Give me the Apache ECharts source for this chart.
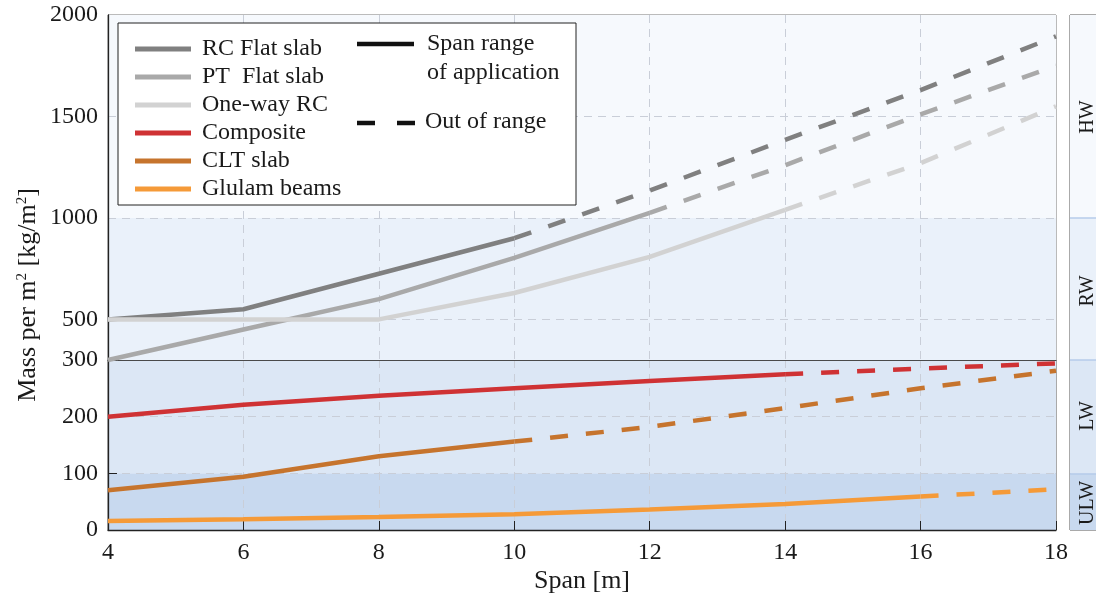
<!DOCTYPE html>
<html lang="en">
<head>
    <meta charset="UTF-8">
    <title>Mass per m2 vs span</title>
    <script src="https://cdn.jsdelivr.net/npm/echarts@6/dist/echarts.min.js"></script>
    <style>
        html, body { margin: 0; padding: 0; background: #fff; }
        #main { width: 1096px; height: 596px; }
    </style>
</head>
<body>
<div id="main"></div>
<script type="text/javascript">
    // span values [m]
    var spans = [4, 6, 8, 10, 12, 14, 16, 18];

    // mass per m2 [kg/m2] for each span
    var rcFlat    = [500, 550, 725, 900, 1135, 1385, 1630, 1895];
    var ptFlat    = [300, 450, 600, 803, 1025, 1260, 1510, 1750];
    var oneWayRC  = [500, 500, 500, 630, 808, 1040, 1270, 1550];
    var composite = [200, 221, 237, 250, 263, 275, 285, 294];
    var cltSlab   = [70, 94, 130, 156, 182, 215, 250, 281];
    var glulam    = [16, 19, 23, 28, 36, 46, 59, 72];

    // last span inside the range of application
    var rcLimit = 10, ptLimit = 12, oneWayLimit = 14, compLimit = 14, cltLimit = 10, glulamLimit = 16;

    // y ticks
    var lowTicks = [0, 100, 200, 300];
    var highTicks = [500, 1000, 1500, 2000];

    // weight classes (band edges)
    var bandEdges = [0, 100, 300, 1000, 2000];
    var bandNames = ['ULW', 'LW', 'RW', 'HW'];
    var bandColors = ['#c8d9ef', '#dce7f5', '#eaf1fa', '#f6f9fd'];

    var FONT = 'Liberation Serif';
    var TXT = '#1a1a1a';
    var GRIDC = '#c9ced8';
    var BANDLINE = '#b6cbea';

    var myChart = echarts.init(document.getElementById('main'), null, {renderer: 'canvas'});

    // colours of 100-steps between min and max
    function stepColors(min, max, fn) {
        var out = [];
        for (var v = min; v < max; v += 100) out.push(fn(v));
        return out;
    }
    function bandColorOf(v) {
        for (var i = 0; i < bandNames.length; i++) {
            if (v >= bandEdges[i] && v < bandEdges[i + 1]) return bandColors[i];
        }
        return bandColors[bandColors.length - 1];
    }
    function lineColors(min, max, list, col) {
        var out = [];
        for (var v = min; v <= max; v += 100) out.push(list.indexOf(v) >= 0 ? col : 'rgba(0,0,0,0)');
        return out;
    }

    var defs = [
        {name: 'RC Flat slab', values: rcFlat, limit: rcLimit, color: '#808080', top: true},
        {name: 'PT  Flat slab', values: ptFlat, limit: ptLimit, color: '#a9a9a9', top: true},
        {name: 'One-way RC', values: oneWayRC, limit: oneWayLimit, color: '#d2d2d2', top: true},
        {name: 'Composite', values: composite, limit: compLimit, color: '#cf3234', top: false},
        {name: 'CLT slab', values: cltSlab, limit: cltLimit, color: '#c6742d', top: false},
        {name: 'Glulam beams', values: glulam, limit: glulamLimit, color: '#f59a38', top: false}
    ];

    var series = [];
    defs.forEach(function (d) {
        var inRange = [], outRange = [];
        for (var i = 0; i < spans.length; i++) {
            if (spans[i] <= d.limit) inRange.push([spans[i], d.values[i]]);
            if (spans[i] >= d.limit) outRange.push([spans[i], d.values[i]]);
        }
        var idx = d.top ? 1 : 0;
        series.push({
            name: d.name, type: 'line', xAxisIndex: idx, yAxisIndex: idx,
            data: inRange, symbol: 'none', silent: true, z: 3,
            itemStyle: {color: d.color},
            lineStyle: {color: d.color, width: 4.5, cap: 'butt'}
        });
        series.push({
            name: d.name + ' (out of range)', type: 'line', xAxisIndex: idx, yAxisIndex: idx,
            data: outRange, symbol: 'none', silent: true, z: 3,
            itemStyle: {color: d.color},
            lineStyle: {color: d.color, width: 4.5, cap: 'butt', type: [18, 18]}
        });
    });

    var xBase = {
        type: 'value', min: 4, max: 18, interval: 2,
        splitLine: {show: true, showMinLine: false, showMaxLine: false, lineStyle: {color: GRIDC, type: [8, 6], width: 1}}
    };

    var gridBase = {show: true, borderWidth: 1, backgroundColor: 'transparent', containLabel: false, outerBoundsMode: 'none'};

    var option = {
        animation: false,
        textStyle: {fontFamily: FONT},
        grid: [
            Object.assign({left: 108, right: 40, top: 360, bottom: 66, borderColor: '#555'}, gridBase),
            Object.assign({left: 108, right: 40, top: 15, height: 345, borderColor: '#777'}, gridBase),
            Object.assign({left: 1070, width: 60, top: 360, bottom: 66, borderColor: '#555'}, gridBase),
            Object.assign({left: 1070, width: 60, top: 15, height: 345, borderColor: '#555'}, gridBase)
        ],
        xAxis: [
            Object.assign({}, xBase, {
                gridIndex: 0,
                name: 'Span [m]', nameLocation: 'middle', nameGap: 38,
                nameTextStyle: {fontSize: 26, color: TXT, fontFamily: FONT},
                axisLine: {show: true, lineStyle: {color: '#222', width: 1.3}},
                axisTick: {show: true, inside: true, length: 9, lineStyle: {color: '#222'}},
                axisLabel: {fontSize: 24, color: TXT, fontFamily: FONT, margin: 11}
            }),
            Object.assign({}, xBase, {
                gridIndex: 1,
                axisLine: {show: true, onZero: false, lineStyle: {color: '#4a4a4a', width: 1.2}},
                axisTick: {show: false}, axisLabel: {show: false}
            }),
            {type: 'value', gridIndex: 2, min: 4, max: 18, show: false},
            {type: 'value', gridIndex: 3, min: 4, max: 18, show: false}
        ],
        yAxis: [
            {
                type: 'value', gridIndex: 0, min: 0, max: 300, interval: 100,
                axisLine: {show: true, lineStyle: {color: '#222', width: 1.3}},
                axisTick: {show: true, inside: true, length: 9, lineStyle: {color: '#222'}},
                axisLabel: {fontSize: 24, color: TXT, fontFamily: FONT, margin: 10},
                splitLine: {show: true, lineStyle: {color: lineColors(0, 300, [100, 200], GRIDC), type: [8, 6]}},
                splitArea: {show: true, areaStyle: {color: stepColors(0, 300, bandColorOf)}}
            },
            {
                type: 'value', gridIndex: 1, min: 300, max: 2000, interval: 100,
                axisLine: {show: true, lineStyle: {color: '#222', width: 1.3}},
                axisTick: {show: false},
                axisLabel: {
                    fontSize: 24, color: TXT, fontFamily: FONT, margin: 10,
                    formatter: function (v) { return highTicks.indexOf(v) >= 0 ? String(v) : ''; }
                },
                splitLine: {show: true, lineStyle: {color: lineColors(300, 2000, [500, 1000, 1500], GRIDC), type: [8, 6]}},
                splitArea: {show: true, areaStyle: {color: stepColors(300, 2000, bandColorOf)}}
            },
            {
                type: 'value', gridIndex: 2, min: 0, max: 300, interval: 100,
                axisLine: {show: false}, axisTick: {show: false}, axisLabel: {show: false},
                splitLine: {show: true, lineStyle: {color: lineColors(0, 300, [100], BANDLINE), width: 1.5}},
                splitArea: {show: true, areaStyle: {color: stepColors(0, 300, bandColorOf)}}
            },
            {
                type: 'value', gridIndex: 3, min: 300, max: 2000, interval: 100,
                axisLine: {show: false}, axisTick: {show: false}, axisLabel: {show: false},
                splitLine: {show: true, lineStyle: {color: lineColors(300, 2000, [300, 1000], BANDLINE), width: 1.5}},
                splitArea: {show: true, areaStyle: {color: stepColors(300, 2000, bandColorOf)}}
            }
        ],
        legend: {
            data: defs.map(function (d) { return d.name; }),
            orient: 'vertical', left: 130, top: 30, itemGap: 0,
            icon: 'rect', itemWidth: 56, itemHeight: 5,
            selectedMode: false, z: 10,
            textStyle: {fontSize: 24, color: TXT, fontFamily: FONT, lineHeight: 28, padding: [0, 0, 0, 6]}
        },
        graphic: [
            {type: 'rect', z: 5, silent: true, shape: {x: 118, y: 23, width: 458, height: 182},
                style: {fill: '#fff', stroke: '#222', lineWidth: 1}},
            {type: 'line', z: 11, silent: true, shape: {x1: 357, y1: 44, x2: 414, y2: 44},
                style: {stroke: '#111', lineWidth: 4.5}},
            {type: 'line', z: 11, silent: true, shape: {x1: 357, y1: 123, x2: 415, y2: 123},
                style: {stroke: '#111', lineWidth: 4.5, lineDash: [18, 22]}},
            {type: 'text', z: 11, silent: true, x: 427, y: 44,
                style: {text: 'Span range', font: '24px "Liberation Serif"', fill: TXT, textVerticalAlign: 'middle'}},
            {type: 'text', z: 11, silent: true, x: 427, y: 73,
                style: {text: 'of application', font: '24px "Liberation Serif"', fill: TXT, textVerticalAlign: 'middle'}},
            {type: 'text', z: 11, silent: true, x: 425, y: 122,
                style: {text: 'Out of range', font: '24px "Liberation Serif"', fill: TXT, textVerticalAlign: 'middle'}},
            // y axis title
            {type: 'text', z: 11, silent: true, x: 28, y: 295, rotation: Math.PI / 2,
                style: {
                    text: 'Mass per m{s|2} [kg/m{s|2}]',
                    font: '26px "Liberation Serif"', fill: TXT,
                    textAlign: 'center', textVerticalAlign: 'middle',
                    rich: {s: {fontSize: 15, fontFamily: FONT, verticalAlign: 'top', lineHeight: 12, fill: TXT}}
                }},
            // weight class labels on the right strip
            {type: 'text', z: 11, silent: true, x: 1088, y: 117, rotation: Math.PI / 2,
                style: {text: bandNames[3], font: '20px "Liberation Serif"', fill: TXT, textAlign: 'center', textVerticalAlign: 'middle'}},
            {type: 'text', z: 11, silent: true, x: 1088, y: 291, rotation: Math.PI / 2,
                style: {text: bandNames[2], font: '20px "Liberation Serif"', fill: TXT, textAlign: 'center', textVerticalAlign: 'middle'}},
            {type: 'text', z: 11, silent: true, x: 1088, y: 416, rotation: Math.PI / 2,
                style: {text: bandNames[1], font: '20px "Liberation Serif"', fill: TXT, textAlign: 'center', textVerticalAlign: 'middle'}},
            {type: 'text', z: 11, silent: true, x: 1088, y: 503, rotation: Math.PI / 2,
                style: {text: bandNames[0], font: '20px "Liberation Serif"', fill: TXT, textAlign: 'center', textVerticalAlign: 'middle'}}
        ],
        series: series
    };

    myChart.setOption(option);
</script>
</body>
</html>
